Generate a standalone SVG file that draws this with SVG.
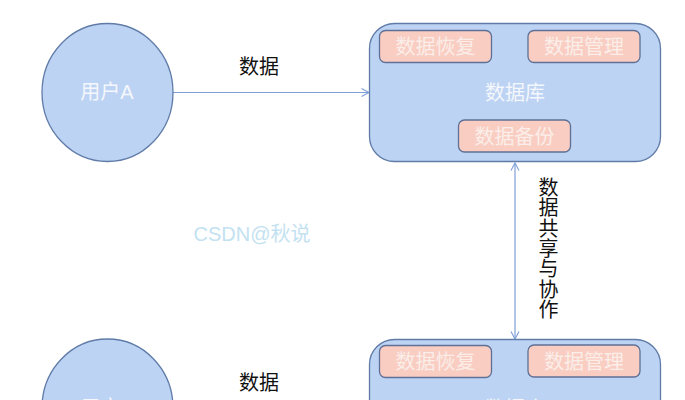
<svg xmlns="http://www.w3.org/2000/svg" width="685" height="400" viewBox="0 0 685 400">
<defs>
<style>
text{font-family:"Liberation Sans","Noto Sans CJK SC",sans-serif;text-anchor:middle}
.big{fill:#bdd3f3;stroke:#5f7ba8;stroke-width:1.3}
.sub{fill:#f9cdc2;stroke:#5f7096;stroke-width:1.3}
.w{fill:#f4f7fc;font-size:20px}
.s{fill:#fbeee9;font-size:20px}
.b{fill:#111;font-size:20px}
.c{fill:none;stroke:#7f9fd8;stroke-width:1.2}
</style>
<marker id="a" markerWidth="12" markerHeight="12" refX="9" refY="5" orient="auto-start-reverse" markerUnits="userSpaceOnUse"><path d="M1.500 1L9 5L1.500 9" fill="none" stroke="#7f9fd8" stroke-width="1.1"/></marker>
</defs>
<rect width="685" height="400" fill="#fff"/>
<g id="connectors">
<line class="c" x1="173" y1="92.500" x2="369" y2="92.500" marker-end="url(#a)"/>
<line class="c" x1="515" y1="163" x2="515" y2="339" marker-start="url(#a)" marker-end="url(#a)"/>
</g>
<g id="userA"><ellipse class="big" cx="107.500" cy="92.500" rx="65.500" ry="69"/><text class="w" x="107" y="99">用户A</text></g>
<g id="dbA">
<rect class="big" x="369.500" y="23.500" width="291" height="138" rx="25"/>
<text class="w" x="515" y="100">数据库</text>
<g id="dbA-restore"><rect class="sub" x="379.500" y="30.500" width="112" height="32" rx="6"/><text class="s" x="435.500" y="54">数据恢复</text></g>
<g id="dbA-manage"><rect class="sub" x="528" y="30.500" width="112" height="32" rx="6"/><text class="s" x="584" y="54">数据管理</text></g>
<g id="dbA-backup"><rect class="sub" x="458.500" y="120" width="112" height="32" rx="6"/><text class="s" x="514.500" y="143.500">数据备份</text></g>
</g>
<g id="userB"><ellipse class="big" cx="107.500" cy="408" rx="65.500" ry="69"/><text class="w" x="107" y="415">用户B</text></g>
<g id="dbB">
<rect class="big" x="369.500" y="339.500" width="291" height="138" rx="25"/>
<text class="w" x="515" y="416">数据库</text>
<g id="dbB-restore"><rect class="sub" x="379.500" y="345.500" width="112" height="32" rx="6"/><text class="s" x="435.500" y="369">数据恢复</text></g>
<g id="dbB-manage"><rect class="sub" x="528" y="345" width="112" height="32" rx="6"/><text class="s" x="584" y="368.500">数据管理</text></g>
</g>
<text class="b" x="259" y="73.500">数据</text>
<text class="b" x="259" y="389.500">数据</text>
<text class="b" x="548.500" y="195">数</text>
<text class="b" x="548.500" y="215.300">据</text>
<text class="b" x="548.500" y="235.600">共</text>
<text class="b" x="548.500" y="255.900">享</text>
<text class="b" x="548.500" y="276.200">与</text>
<text class="b" x="548.500" y="296.500">协</text>
<text class="b" x="548.500" y="316.800">作</text>
<text x="252" y="241" font-size="20" fill="#c3e2f1">CSDN@秋说</text>
</svg>
